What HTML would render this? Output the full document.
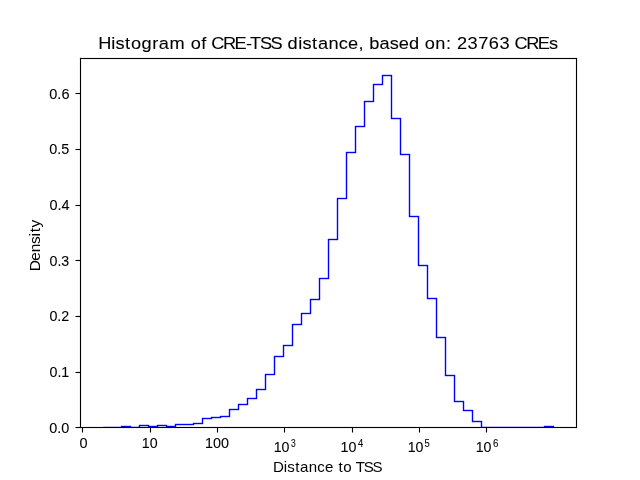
<!DOCTYPE html>
<html><head><meta charset="utf-8"><style>
html,body{margin:0;padding:0;background:#fff;overflow:hidden;}
svg{display:block;will-change:transform;}
text{font-family:"Liberation Sans",sans-serif;fill:#000;}
</style></head><body>
<svg width="640" height="480" viewBox="0 0 640 480">
<rect width="640" height="480" fill="#fff"/>
<g shape-rendering="crispEdges"><clipPath id="ax"><rect x="80" y="58" width="496" height="369"/></clipPath><g clip-path="url(#ax)"><rect x="103" y="426" width="19" height="1" fill="#00f" fill-opacity="0.196"/><rect x="103" y="428" width="19" height="1" fill="#00f" fill-opacity="0.196"/><rect x="120" y="426" width="1" height="2" fill="#00f" fill-opacity="0.196"/><rect x="122" y="426" width="1" height="2" fill="#00f" fill-opacity="0.196"/><rect x="121" y="425" width="10" height="1" fill="#00f" fill-opacity="0.196"/><rect x="121" y="427" width="10" height="1" fill="#00f" fill-opacity="0.196"/><rect x="129" y="426" width="1" height="2" fill="#00f" fill-opacity="0.196"/><rect x="131" y="426" width="1" height="2" fill="#00f" fill-opacity="0.196"/><rect x="130" y="426" width="10" height="1" fill="#00f" fill-opacity="0.196"/><rect x="130" y="428" width="10" height="1" fill="#00f" fill-opacity="0.196"/><rect x="138" y="425" width="1" height="3" fill="#00f" fill-opacity="0.196"/><rect x="140" y="425" width="1" height="3" fill="#00f" fill-opacity="0.196"/><rect x="139" y="424" width="10" height="1" fill="#00f" fill-opacity="0.196"/><rect x="139" y="426" width="10" height="1" fill="#00f" fill-opacity="0.196"/><rect x="147" y="425" width="1" height="2" fill="#00f" fill-opacity="0.196"/><rect x="149" y="425" width="1" height="2" fill="#00f" fill-opacity="0.196"/><rect x="148" y="425" width="10" height="1" fill="#00f" fill-opacity="0.196"/><rect x="148" y="427" width="10" height="1" fill="#00f" fill-opacity="0.196"/><rect x="156" y="425" width="1" height="2" fill="#00f" fill-opacity="0.196"/><rect x="158" y="425" width="1" height="2" fill="#00f" fill-opacity="0.196"/><rect x="157" y="424" width="10" height="1" fill="#00f" fill-opacity="0.196"/><rect x="157" y="426" width="10" height="1" fill="#00f" fill-opacity="0.196"/><rect x="165" y="425" width="1" height="2" fill="#00f" fill-opacity="0.196"/><rect x="167" y="425" width="1" height="2" fill="#00f" fill-opacity="0.196"/><rect x="166" y="425" width="10" height="1" fill="#00f" fill-opacity="0.196"/><rect x="166" y="427" width="10" height="1" fill="#00f" fill-opacity="0.196"/><rect x="174" y="424" width="1" height="3" fill="#00f" fill-opacity="0.196"/><rect x="176" y="424" width="1" height="3" fill="#00f" fill-opacity="0.196"/><rect x="175" y="423" width="19" height="1" fill="#00f" fill-opacity="0.196"/><rect x="175" y="425" width="19" height="1" fill="#00f" fill-opacity="0.196"/><rect x="192" y="423" width="1" height="2" fill="#00f" fill-opacity="0.196"/><rect x="194" y="423" width="1" height="2" fill="#00f" fill-opacity="0.196"/><rect x="193" y="422" width="10" height="1" fill="#00f" fill-opacity="0.196"/><rect x="193" y="424" width="10" height="1" fill="#00f" fill-opacity="0.196"/><rect x="201" y="418" width="1" height="6" fill="#00f" fill-opacity="0.196"/><rect x="203" y="418" width="1" height="6" fill="#00f" fill-opacity="0.196"/><rect x="202" y="417" width="10" height="1" fill="#00f" fill-opacity="0.196"/><rect x="202" y="419" width="10" height="1" fill="#00f" fill-opacity="0.196"/><rect x="210" y="417" width="1" height="2" fill="#00f" fill-opacity="0.196"/><rect x="212" y="417" width="1" height="2" fill="#00f" fill-opacity="0.196"/><rect x="211" y="416" width="10" height="1" fill="#00f" fill-opacity="0.196"/><rect x="211" y="418" width="10" height="1" fill="#00f" fill-opacity="0.196"/><rect x="219" y="416" width="1" height="2" fill="#00f" fill-opacity="0.196"/><rect x="221" y="416" width="1" height="2" fill="#00f" fill-opacity="0.196"/><rect x="220" y="415" width="10" height="1" fill="#00f" fill-opacity="0.196"/><rect x="220" y="417" width="10" height="1" fill="#00f" fill-opacity="0.196"/><rect x="228" y="409" width="1" height="8" fill="#00f" fill-opacity="0.196"/><rect x="230" y="409" width="1" height="8" fill="#00f" fill-opacity="0.196"/><rect x="229" y="408" width="10" height="1" fill="#00f" fill-opacity="0.196"/><rect x="229" y="410" width="10" height="1" fill="#00f" fill-opacity="0.196"/><rect x="237" y="404" width="1" height="6" fill="#00f" fill-opacity="0.196"/><rect x="239" y="404" width="1" height="6" fill="#00f" fill-opacity="0.196"/><rect x="238" y="403" width="10" height="1" fill="#00f" fill-opacity="0.196"/><rect x="238" y="405" width="10" height="1" fill="#00f" fill-opacity="0.196"/><rect x="246" y="398" width="1" height="7" fill="#00f" fill-opacity="0.196"/><rect x="248" y="398" width="1" height="7" fill="#00f" fill-opacity="0.196"/><rect x="247" y="397" width="10" height="1" fill="#00f" fill-opacity="0.196"/><rect x="247" y="399" width="10" height="1" fill="#00f" fill-opacity="0.196"/><rect x="255" y="389" width="1" height="10" fill="#00f" fill-opacity="0.196"/><rect x="257" y="389" width="1" height="10" fill="#00f" fill-opacity="0.196"/><rect x="256" y="388" width="10" height="1" fill="#00f" fill-opacity="0.196"/><rect x="256" y="390" width="10" height="1" fill="#00f" fill-opacity="0.196"/><rect x="264" y="374" width="1" height="16" fill="#00f" fill-opacity="0.196"/><rect x="266" y="374" width="1" height="16" fill="#00f" fill-opacity="0.196"/><rect x="265" y="373" width="10" height="1" fill="#00f" fill-opacity="0.196"/><rect x="265" y="375" width="10" height="1" fill="#00f" fill-opacity="0.196"/><rect x="273" y="356" width="1" height="19" fill="#00f" fill-opacity="0.196"/><rect x="275" y="356" width="1" height="19" fill="#00f" fill-opacity="0.196"/><rect x="274" y="355" width="10" height="1" fill="#00f" fill-opacity="0.196"/><rect x="274" y="357" width="10" height="1" fill="#00f" fill-opacity="0.196"/><rect x="282" y="345" width="1" height="12" fill="#00f" fill-opacity="0.196"/><rect x="284" y="345" width="1" height="12" fill="#00f" fill-opacity="0.196"/><rect x="283" y="344" width="10" height="1" fill="#00f" fill-opacity="0.196"/><rect x="283" y="346" width="10" height="1" fill="#00f" fill-opacity="0.196"/><rect x="291" y="324" width="1" height="22" fill="#00f" fill-opacity="0.196"/><rect x="293" y="324" width="1" height="22" fill="#00f" fill-opacity="0.196"/><rect x="292" y="323" width="10" height="1" fill="#00f" fill-opacity="0.196"/><rect x="292" y="325" width="10" height="1" fill="#00f" fill-opacity="0.196"/><rect x="300" y="313" width="1" height="12" fill="#00f" fill-opacity="0.196"/><rect x="302" y="313" width="1" height="12" fill="#00f" fill-opacity="0.196"/><rect x="301" y="312" width="10" height="1" fill="#00f" fill-opacity="0.196"/><rect x="301" y="314" width="10" height="1" fill="#00f" fill-opacity="0.196"/><rect x="309" y="299" width="1" height="15" fill="#00f" fill-opacity="0.196"/><rect x="311" y="299" width="1" height="15" fill="#00f" fill-opacity="0.196"/><rect x="310" y="298" width="10" height="1" fill="#00f" fill-opacity="0.196"/><rect x="310" y="300" width="10" height="1" fill="#00f" fill-opacity="0.196"/><rect x="318" y="278" width="1" height="22" fill="#00f" fill-opacity="0.196"/><rect x="320" y="278" width="1" height="22" fill="#00f" fill-opacity="0.196"/><rect x="319" y="277" width="10" height="1" fill="#00f" fill-opacity="0.196"/><rect x="319" y="279" width="10" height="1" fill="#00f" fill-opacity="0.196"/><rect x="327" y="239" width="1" height="40" fill="#00f" fill-opacity="0.196"/><rect x="329" y="239" width="1" height="40" fill="#00f" fill-opacity="0.196"/><rect x="328" y="238" width="10" height="1" fill="#00f" fill-opacity="0.196"/><rect x="328" y="240" width="10" height="1" fill="#00f" fill-opacity="0.196"/><rect x="336" y="198" width="1" height="42" fill="#00f" fill-opacity="0.196"/><rect x="338" y="198" width="1" height="42" fill="#00f" fill-opacity="0.196"/><rect x="337" y="197" width="10" height="1" fill="#00f" fill-opacity="0.196"/><rect x="337" y="199" width="10" height="1" fill="#00f" fill-opacity="0.196"/><rect x="345" y="152" width="1" height="47" fill="#00f" fill-opacity="0.196"/><rect x="347" y="152" width="1" height="47" fill="#00f" fill-opacity="0.196"/><rect x="346" y="151" width="10" height="1" fill="#00f" fill-opacity="0.196"/><rect x="346" y="153" width="10" height="1" fill="#00f" fill-opacity="0.196"/><rect x="354" y="126" width="1" height="27" fill="#00f" fill-opacity="0.196"/><rect x="356" y="126" width="1" height="27" fill="#00f" fill-opacity="0.196"/><rect x="355" y="125" width="10" height="1" fill="#00f" fill-opacity="0.196"/><rect x="355" y="127" width="10" height="1" fill="#00f" fill-opacity="0.196"/><rect x="363" y="101" width="1" height="26" fill="#00f" fill-opacity="0.196"/><rect x="365" y="101" width="1" height="26" fill="#00f" fill-opacity="0.196"/><rect x="364" y="100" width="10" height="1" fill="#00f" fill-opacity="0.196"/><rect x="364" y="102" width="10" height="1" fill="#00f" fill-opacity="0.196"/><rect x="372" y="84" width="1" height="18" fill="#00f" fill-opacity="0.196"/><rect x="374" y="84" width="1" height="18" fill="#00f" fill-opacity="0.196"/><rect x="373" y="83" width="10" height="1" fill="#00f" fill-opacity="0.196"/><rect x="373" y="85" width="10" height="1" fill="#00f" fill-opacity="0.196"/><rect x="381" y="75" width="1" height="10" fill="#00f" fill-opacity="0.196"/><rect x="383" y="75" width="1" height="10" fill="#00f" fill-opacity="0.196"/><rect x="382" y="74" width="10" height="1" fill="#00f" fill-opacity="0.196"/><rect x="382" y="76" width="10" height="1" fill="#00f" fill-opacity="0.196"/><rect x="390" y="75" width="1" height="44" fill="#00f" fill-opacity="0.196"/><rect x="392" y="75" width="1" height="44" fill="#00f" fill-opacity="0.196"/><rect x="391" y="117" width="10" height="1" fill="#00f" fill-opacity="0.196"/><rect x="391" y="119" width="10" height="1" fill="#00f" fill-opacity="0.196"/><rect x="399" y="118" width="1" height="37" fill="#00f" fill-opacity="0.196"/><rect x="401" y="118" width="1" height="37" fill="#00f" fill-opacity="0.196"/><rect x="400" y="153" width="10" height="1" fill="#00f" fill-opacity="0.196"/><rect x="400" y="155" width="10" height="1" fill="#00f" fill-opacity="0.196"/><rect x="408" y="154" width="1" height="63" fill="#00f" fill-opacity="0.196"/><rect x="410" y="154" width="1" height="63" fill="#00f" fill-opacity="0.196"/><rect x="409" y="215" width="10" height="1" fill="#00f" fill-opacity="0.196"/><rect x="409" y="217" width="10" height="1" fill="#00f" fill-opacity="0.196"/><rect x="417" y="216" width="1" height="50" fill="#00f" fill-opacity="0.196"/><rect x="419" y="216" width="1" height="50" fill="#00f" fill-opacity="0.196"/><rect x="418" y="264" width="10" height="1" fill="#00f" fill-opacity="0.196"/><rect x="418" y="266" width="10" height="1" fill="#00f" fill-opacity="0.196"/><rect x="426" y="265" width="1" height="34" fill="#00f" fill-opacity="0.196"/><rect x="428" y="265" width="1" height="34" fill="#00f" fill-opacity="0.196"/><rect x="427" y="297" width="10" height="1" fill="#00f" fill-opacity="0.196"/><rect x="427" y="299" width="10" height="1" fill="#00f" fill-opacity="0.196"/><rect x="435" y="298" width="1" height="40" fill="#00f" fill-opacity="0.196"/><rect x="437" y="298" width="1" height="40" fill="#00f" fill-opacity="0.196"/><rect x="436" y="336" width="10" height="1" fill="#00f" fill-opacity="0.196"/><rect x="436" y="338" width="10" height="1" fill="#00f" fill-opacity="0.196"/><rect x="444" y="337" width="1" height="39" fill="#00f" fill-opacity="0.196"/><rect x="446" y="337" width="1" height="39" fill="#00f" fill-opacity="0.196"/><rect x="445" y="374" width="10" height="1" fill="#00f" fill-opacity="0.196"/><rect x="445" y="376" width="10" height="1" fill="#00f" fill-opacity="0.196"/><rect x="453" y="375" width="1" height="27" fill="#00f" fill-opacity="0.196"/><rect x="455" y="375" width="1" height="27" fill="#00f" fill-opacity="0.196"/><rect x="454" y="400" width="10" height="1" fill="#00f" fill-opacity="0.196"/><rect x="454" y="402" width="10" height="1" fill="#00f" fill-opacity="0.196"/><rect x="462" y="401" width="1" height="10" fill="#00f" fill-opacity="0.196"/><rect x="464" y="401" width="1" height="10" fill="#00f" fill-opacity="0.196"/><rect x="463" y="409" width="10" height="1" fill="#00f" fill-opacity="0.196"/><rect x="463" y="411" width="10" height="1" fill="#00f" fill-opacity="0.196"/><rect x="471" y="410" width="1" height="12" fill="#00f" fill-opacity="0.196"/><rect x="473" y="410" width="1" height="12" fill="#00f" fill-opacity="0.196"/><rect x="472" y="420" width="10" height="1" fill="#00f" fill-opacity="0.196"/><rect x="472" y="422" width="10" height="1" fill="#00f" fill-opacity="0.196"/><rect x="480" y="421" width="1" height="7" fill="#00f" fill-opacity="0.196"/><rect x="482" y="421" width="1" height="7" fill="#00f" fill-opacity="0.196"/><rect x="481" y="426" width="64" height="1" fill="#00f" fill-opacity="0.196"/><rect x="481" y="428" width="64" height="1" fill="#00f" fill-opacity="0.196"/><rect x="543" y="426" width="1" height="2" fill="#00f" fill-opacity="0.196"/><rect x="545" y="426" width="1" height="2" fill="#00f" fill-opacity="0.196"/><rect x="544" y="425" width="10" height="1" fill="#00f" fill-opacity="0.196"/><rect x="544" y="427" width="10" height="1" fill="#00f" fill-opacity="0.196"/><rect x="552" y="426" width="1" height="2" fill="#00f" fill-opacity="0.196"/><rect x="554" y="426" width="1" height="2" fill="#00f" fill-opacity="0.196"/><rect x="103" y="427" width="19" height="1" fill="#00f"/><rect x="121" y="426" width="1" height="2" fill="#00f"/><rect x="121" y="426" width="10" height="1" fill="#00f"/><rect x="130" y="426" width="1" height="2" fill="#00f"/><rect x="130" y="427" width="10" height="1" fill="#00f"/><rect x="139" y="425" width="1" height="3" fill="#00f"/><rect x="139" y="425" width="10" height="1" fill="#00f"/><rect x="148" y="425" width="1" height="2" fill="#00f"/><rect x="148" y="426" width="10" height="1" fill="#00f"/><rect x="157" y="425" width="1" height="2" fill="#00f"/><rect x="157" y="425" width="10" height="1" fill="#00f"/><rect x="166" y="425" width="1" height="2" fill="#00f"/><rect x="166" y="426" width="10" height="1" fill="#00f"/><rect x="175" y="424" width="1" height="3" fill="#00f"/><rect x="175" y="424" width="19" height="1" fill="#00f"/><rect x="193" y="423" width="1" height="2" fill="#00f"/><rect x="193" y="423" width="10" height="1" fill="#00f"/><rect x="202" y="418" width="1" height="6" fill="#00f"/><rect x="202" y="418" width="10" height="1" fill="#00f"/><rect x="211" y="417" width="1" height="2" fill="#00f"/><rect x="211" y="417" width="10" height="1" fill="#00f"/><rect x="220" y="416" width="1" height="2" fill="#00f"/><rect x="220" y="416" width="10" height="1" fill="#00f"/><rect x="229" y="409" width="1" height="8" fill="#00f"/><rect x="229" y="409" width="10" height="1" fill="#00f"/><rect x="238" y="404" width="1" height="6" fill="#00f"/><rect x="238" y="404" width="10" height="1" fill="#00f"/><rect x="247" y="398" width="1" height="7" fill="#00f"/><rect x="247" y="398" width="10" height="1" fill="#00f"/><rect x="256" y="389" width="1" height="10" fill="#00f"/><rect x="256" y="389" width="10" height="1" fill="#00f"/><rect x="265" y="374" width="1" height="16" fill="#00f"/><rect x="265" y="374" width="10" height="1" fill="#00f"/><rect x="274" y="356" width="1" height="19" fill="#00f"/><rect x="274" y="356" width="10" height="1" fill="#00f"/><rect x="283" y="345" width="1" height="12" fill="#00f"/><rect x="283" y="345" width="10" height="1" fill="#00f"/><rect x="292" y="324" width="1" height="22" fill="#00f"/><rect x="292" y="324" width="10" height="1" fill="#00f"/><rect x="301" y="313" width="1" height="12" fill="#00f"/><rect x="301" y="313" width="10" height="1" fill="#00f"/><rect x="310" y="299" width="1" height="15" fill="#00f"/><rect x="310" y="299" width="10" height="1" fill="#00f"/><rect x="319" y="278" width="1" height="22" fill="#00f"/><rect x="319" y="278" width="10" height="1" fill="#00f"/><rect x="328" y="239" width="1" height="40" fill="#00f"/><rect x="328" y="239" width="10" height="1" fill="#00f"/><rect x="337" y="198" width="1" height="42" fill="#00f"/><rect x="337" y="198" width="10" height="1" fill="#00f"/><rect x="346" y="152" width="1" height="47" fill="#00f"/><rect x="346" y="152" width="10" height="1" fill="#00f"/><rect x="355" y="126" width="1" height="27" fill="#00f"/><rect x="355" y="126" width="10" height="1" fill="#00f"/><rect x="364" y="101" width="1" height="26" fill="#00f"/><rect x="364" y="101" width="10" height="1" fill="#00f"/><rect x="373" y="84" width="1" height="18" fill="#00f"/><rect x="373" y="84" width="10" height="1" fill="#00f"/><rect x="382" y="75" width="1" height="10" fill="#00f"/><rect x="382" y="75" width="10" height="1" fill="#00f"/><rect x="391" y="75" width="1" height="44" fill="#00f"/><rect x="391" y="118" width="10" height="1" fill="#00f"/><rect x="400" y="118" width="1" height="37" fill="#00f"/><rect x="400" y="154" width="10" height="1" fill="#00f"/><rect x="409" y="154" width="1" height="63" fill="#00f"/><rect x="409" y="216" width="10" height="1" fill="#00f"/><rect x="418" y="216" width="1" height="50" fill="#00f"/><rect x="418" y="265" width="10" height="1" fill="#00f"/><rect x="427" y="265" width="1" height="34" fill="#00f"/><rect x="427" y="298" width="10" height="1" fill="#00f"/><rect x="436" y="298" width="1" height="40" fill="#00f"/><rect x="436" y="337" width="10" height="1" fill="#00f"/><rect x="445" y="337" width="1" height="39" fill="#00f"/><rect x="445" y="375" width="10" height="1" fill="#00f"/><rect x="454" y="375" width="1" height="27" fill="#00f"/><rect x="454" y="401" width="10" height="1" fill="#00f"/><rect x="463" y="401" width="1" height="10" fill="#00f"/><rect x="463" y="410" width="10" height="1" fill="#00f"/><rect x="472" y="410" width="1" height="12" fill="#00f"/><rect x="472" y="421" width="10" height="1" fill="#00f"/><rect x="481" y="421" width="1" height="7" fill="#00f"/><rect x="481" y="427" width="64" height="1" fill="#00f"/><rect x="544" y="426" width="1" height="2" fill="#00f"/><rect x="544" y="426" width="10" height="1" fill="#00f"/><rect x="553" y="426" width="1" height="2" fill="#00f"/></g><rect x="80" y="57" width="497" height="1" fill="#000" fill-opacity="0.055"/><rect x="80" y="59" width="497" height="1" fill="#000" fill-opacity="0.055"/><rect x="79" y="58" width="1" height="1" fill="#000" fill-opacity="0.055"/><rect x="577" y="58" width="1" height="1" fill="#000" fill-opacity="0.055"/><rect x="80" y="426" width="497" height="1" fill="#000" fill-opacity="0.055"/><rect x="80" y="428" width="497" height="1" fill="#000" fill-opacity="0.055"/><rect x="79" y="427" width="1" height="1" fill="#000" fill-opacity="0.055"/><rect x="577" y="427" width="1" height="1" fill="#000" fill-opacity="0.055"/><rect x="79" y="58" width="1" height="370" fill="#000" fill-opacity="0.055"/><rect x="81" y="58" width="1" height="370" fill="#000" fill-opacity="0.055"/><rect x="80" y="57" width="1" height="1" fill="#000" fill-opacity="0.055"/><rect x="80" y="428" width="1" height="1" fill="#000" fill-opacity="0.055"/><rect x="575" y="58" width="1" height="370" fill="#000" fill-opacity="0.055"/><rect x="577" y="58" width="1" height="370" fill="#000" fill-opacity="0.055"/><rect x="576" y="57" width="1" height="1" fill="#000" fill-opacity="0.055"/><rect x="576" y="428" width="1" height="1" fill="#000" fill-opacity="0.055"/><rect x="80" y="58" width="497" height="1" fill="#000"/><rect x="80" y="427" width="497" height="1" fill="#000"/><rect x="80" y="58" width="1" height="370" fill="#000"/><rect x="576" y="58" width="1" height="370" fill="#000"/><rect x="82" y="428" width="1" height="4" fill="#000"/><rect x="82" y="432" width="1" height="1" fill="#000" fill-opacity="0.5"/><rect x="81" y="428" width="1" height="4" fill="#000" fill-opacity="0.055"/><rect x="83" y="428" width="1" height="4" fill="#000" fill-opacity="0.055"/><rect x="81" y="432" width="1" height="1" fill="#000" fill-opacity="0.027"/><rect x="83" y="432" width="1" height="1" fill="#000" fill-opacity="0.027"/><rect x="150" y="428" width="1" height="4" fill="#000"/><rect x="150" y="432" width="1" height="1" fill="#000" fill-opacity="0.5"/><rect x="149" y="428" width="1" height="4" fill="#000" fill-opacity="0.055"/><rect x="151" y="428" width="1" height="4" fill="#000" fill-opacity="0.055"/><rect x="149" y="432" width="1" height="1" fill="#000" fill-opacity="0.027"/><rect x="151" y="432" width="1" height="1" fill="#000" fill-opacity="0.027"/><rect x="217" y="428" width="1" height="4" fill="#000"/><rect x="217" y="432" width="1" height="1" fill="#000" fill-opacity="0.5"/><rect x="216" y="428" width="1" height="4" fill="#000" fill-opacity="0.055"/><rect x="218" y="428" width="1" height="4" fill="#000" fill-opacity="0.055"/><rect x="216" y="432" width="1" height="1" fill="#000" fill-opacity="0.027"/><rect x="218" y="432" width="1" height="1" fill="#000" fill-opacity="0.027"/><rect x="284" y="428" width="1" height="4" fill="#000"/><rect x="284" y="432" width="1" height="1" fill="#000" fill-opacity="0.5"/><rect x="283" y="428" width="1" height="4" fill="#000" fill-opacity="0.055"/><rect x="285" y="428" width="1" height="4" fill="#000" fill-opacity="0.055"/><rect x="283" y="432" width="1" height="1" fill="#000" fill-opacity="0.027"/><rect x="285" y="432" width="1" height="1" fill="#000" fill-opacity="0.027"/><rect x="352" y="428" width="1" height="4" fill="#000"/><rect x="352" y="432" width="1" height="1" fill="#000" fill-opacity="0.5"/><rect x="351" y="428" width="1" height="4" fill="#000" fill-opacity="0.055"/><rect x="353" y="428" width="1" height="4" fill="#000" fill-opacity="0.055"/><rect x="351" y="432" width="1" height="1" fill="#000" fill-opacity="0.027"/><rect x="353" y="432" width="1" height="1" fill="#000" fill-opacity="0.027"/><rect x="419" y="428" width="1" height="4" fill="#000"/><rect x="419" y="432" width="1" height="1" fill="#000" fill-opacity="0.5"/><rect x="418" y="428" width="1" height="4" fill="#000" fill-opacity="0.055"/><rect x="420" y="428" width="1" height="4" fill="#000" fill-opacity="0.055"/><rect x="418" y="432" width="1" height="1" fill="#000" fill-opacity="0.027"/><rect x="420" y="432" width="1" height="1" fill="#000" fill-opacity="0.027"/><rect x="486" y="428" width="1" height="4" fill="#000"/><rect x="486" y="432" width="1" height="1" fill="#000" fill-opacity="0.5"/><rect x="485" y="428" width="1" height="4" fill="#000" fill-opacity="0.055"/><rect x="487" y="428" width="1" height="4" fill="#000" fill-opacity="0.055"/><rect x="485" y="432" width="1" height="1" fill="#000" fill-opacity="0.027"/><rect x="487" y="432" width="1" height="1" fill="#000" fill-opacity="0.027"/><rect x="76" y="427" width="4" height="1" fill="#000"/><rect x="75" y="427" width="1" height="1" fill="#000" fill-opacity="0.5"/><rect x="76" y="426" width="4" height="1" fill="#000" fill-opacity="0.055"/><rect x="76" y="428" width="4" height="1" fill="#000" fill-opacity="0.055"/><rect x="75" y="426" width="1" height="1" fill="#000" fill-opacity="0.027"/><rect x="75" y="428" width="1" height="1" fill="#000" fill-opacity="0.027"/><rect x="76" y="372" width="4" height="1" fill="#000"/><rect x="75" y="372" width="1" height="1" fill="#000" fill-opacity="0.5"/><rect x="76" y="371" width="4" height="1" fill="#000" fill-opacity="0.055"/><rect x="76" y="373" width="4" height="1" fill="#000" fill-opacity="0.055"/><rect x="75" y="371" width="1" height="1" fill="#000" fill-opacity="0.027"/><rect x="75" y="373" width="1" height="1" fill="#000" fill-opacity="0.027"/><rect x="76" y="316" width="4" height="1" fill="#000"/><rect x="75" y="316" width="1" height="1" fill="#000" fill-opacity="0.5"/><rect x="76" y="315" width="4" height="1" fill="#000" fill-opacity="0.055"/><rect x="76" y="317" width="4" height="1" fill="#000" fill-opacity="0.055"/><rect x="75" y="315" width="1" height="1" fill="#000" fill-opacity="0.027"/><rect x="75" y="317" width="1" height="1" fill="#000" fill-opacity="0.027"/><rect x="76" y="260" width="4" height="1" fill="#000"/><rect x="75" y="260" width="1" height="1" fill="#000" fill-opacity="0.5"/><rect x="76" y="259" width="4" height="1" fill="#000" fill-opacity="0.055"/><rect x="76" y="261" width="4" height="1" fill="#000" fill-opacity="0.055"/><rect x="75" y="259" width="1" height="1" fill="#000" fill-opacity="0.027"/><rect x="75" y="261" width="1" height="1" fill="#000" fill-opacity="0.027"/><rect x="76" y="205" width="4" height="1" fill="#000"/><rect x="75" y="205" width="1" height="1" fill="#000" fill-opacity="0.5"/><rect x="76" y="204" width="4" height="1" fill="#000" fill-opacity="0.055"/><rect x="76" y="206" width="4" height="1" fill="#000" fill-opacity="0.055"/><rect x="75" y="204" width="1" height="1" fill="#000" fill-opacity="0.027"/><rect x="75" y="206" width="1" height="1" fill="#000" fill-opacity="0.027"/><rect x="76" y="149" width="4" height="1" fill="#000"/><rect x="75" y="149" width="1" height="1" fill="#000" fill-opacity="0.5"/><rect x="76" y="148" width="4" height="1" fill="#000" fill-opacity="0.055"/><rect x="76" y="150" width="4" height="1" fill="#000" fill-opacity="0.055"/><rect x="75" y="148" width="1" height="1" fill="#000" fill-opacity="0.027"/><rect x="75" y="150" width="1" height="1" fill="#000" fill-opacity="0.027"/><rect x="76" y="93" width="4" height="1" fill="#000"/><rect x="75" y="93" width="1" height="1" fill="#000" fill-opacity="0.5"/><rect x="76" y="92" width="4" height="1" fill="#000" fill-opacity="0.055"/><rect x="76" y="94" width="4" height="1" fill="#000" fill-opacity="0.055"/><rect x="75" y="92" width="1" height="1" fill="#000" fill-opacity="0.027"/><rect x="75" y="94" width="1" height="1" fill="#000" fill-opacity="0.027"/></g>
<g>
<text transform="translate(98.40,49.00) scale(1.0465,1)" x="-0.27 12.32 16.30 25.54 31.15 41.12 51.44 57.69 67.98 83.15 88.16 98.30 103.66 107.92 119.07 130.17 141.01 144.93 154.41 164.57 175.57 180.78 190.98 194.96 204.20 209.82 219.79 229.75 238.59 248.47 253.56 258.76 268.74 278.31 286.91 296.91 306.96 311.97 321.94 332.13 337.37 342.58 352.76 362.95 373.13 383.31 393.37 397.63 408.78 419.87 430.55" y="0" font-size="17.4" stroke="#000" stroke-width="0.08">Histogram of CRE-TSS distance, based on: 23763 CREs</text>
<text transform="translate(273.00,472.00) scale(1.0479,1)" x="-0.12 10.38 13.65 21.26 25.88 34.10 42.31 49.58 57.73 62.41 67.03 75.16 78.88 86.69 95.06" y="0" font-size="14.4">Distance to TSS</text>
<text transform="translate(40.00,270.95) rotate(-90) scale(1.0697,1)" x="-0.34 9.61 17.49 25.19 32.24 36.07 40.68" y="0" font-size="14.4">Density</text>
<text x="79.46" y="448.00" font-size="14.4" textLength="8.06" lengthAdjust="spacingAndGlyphs" stroke="#000" stroke-width="0.08">0</text>
<text transform="translate(141.73,448.00) scale(0.9862,1)" x="-0.00 8.01" y="0" font-size="14.4" stroke="#000" stroke-width="0.08">10</text>
<text transform="translate(205.02,448.00) scale(0.9996,1)" x="0.00 8.01 16.02" y="0" font-size="14.4" stroke="#000" stroke-width="0.08">100</text>
<text transform="translate(273.74,452.00) scale(0.9840,1)" x="-0.00 8.01" y="0" font-size="14.4" stroke="#000" stroke-width="0.08">10</text>
<text x="291.00" y="447.00" font-size="10" textLength="4.70" lengthAdjust="spacingAndGlyphs" stroke="#000" stroke-width="0.08">3</text>
<text transform="translate(340.59,452.00) scale(0.9928,1)" x="-0.00 8.01" y="0" font-size="14.4" stroke="#000" stroke-width="0.08">10</text>
<text x="358.00" y="447.00" font-size="10" textLength="5.25" lengthAdjust="spacingAndGlyphs" stroke="#000" stroke-width="0.08">4</text>
<text transform="translate(407.74,452.00) scale(0.9840,1)" x="-0.00 8.01" y="0" font-size="14.4" stroke="#000" stroke-width="0.08">10</text>
<text x="424.39" y="447.00" font-size="10" textLength="5.26" lengthAdjust="spacingAndGlyphs" stroke="#000" stroke-width="0.08">5</text>
<text transform="translate(475.74,451.70) scale(0.9840,1)" x="-0.00 8.01" y="0" font-size="14.4" stroke="#000" stroke-width="0.08">10</text>
<text x="493.00" y="447.00" font-size="10" textLength="5.44" lengthAdjust="spacingAndGlyphs" stroke="#000" stroke-width="0.08">6</text>
<text transform="translate(49.28,433.00) scale(1.0017,1)" x="-0.00 8.01 12.01" y="0" font-size="14.4" stroke="#000" stroke-width="0.08">0.0</text>
<text transform="translate(49.49,377.00) scale(0.9896,1)" x="-0.00 8.01 12.01" y="0" font-size="14.4" stroke="#000" stroke-width="0.08">0.1</text>
<text transform="translate(49.40,321.00) scale(0.9933,1)" x="-0.00 8.01 12.01" y="0" font-size="14.4" stroke="#000" stroke-width="0.08">0.2</text>
<text transform="translate(49.49,266.00) scale(0.9896,1)" x="-0.00 8.01 12.01" y="0" font-size="14.4" stroke="#000" stroke-width="0.08">0.3</text>
<text transform="translate(49.40,210.00) scale(1.0055,1)" x="-0.00 8.01 12.01" y="0" font-size="14.4" stroke="#000" stroke-width="0.08">0.4</text>
<text transform="translate(49.30,154.00) scale(1.0017,1)" x="-0.00 8.01 12.01" y="0" font-size="14.4" stroke="#000" stroke-width="0.08">0.5</text>
<text transform="translate(49.30,99.00) scale(1.0078,1)" x="-0.00 8.01 12.01" y="0" font-size="14.4" stroke="#000" stroke-width="0.08">0.6</text>
</g>
</svg>
</body></html>
